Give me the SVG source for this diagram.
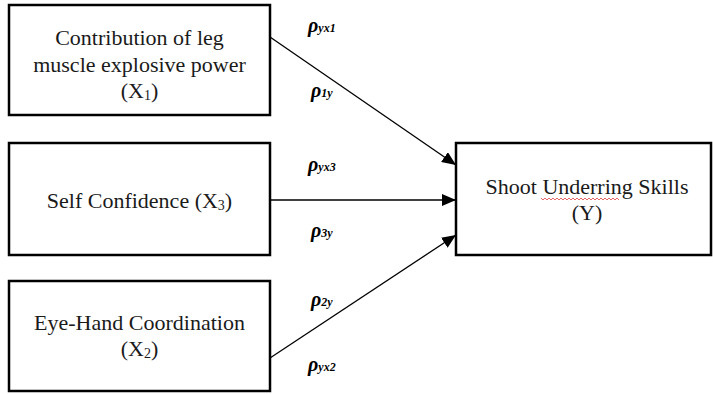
<svg xmlns="http://www.w3.org/2000/svg" width="713" height="394" viewBox="0 0 713 394">
<style>
.box{fill:#fff;stroke:#000;stroke-width:2.5}
.t{font-family:"Liberation Serif","Times New Roman",serif;font-size:22px;fill:#1a1a1a;text-anchor:middle}
.sub{font-size:14px}
.c{stroke:#000;stroke-width:1.3;fill:none}
.rho{font-family:"Liberation Serif","Times New Roman",serif;font-weight:bold;font-style:italic;font-size:20px;fill:#000}
.rs{font-size:12px}
</style>
<defs>
<marker id="ah" markerUnits="userSpaceOnUse" markerWidth="14" markerHeight="12" refX="14" refY="6" orient="auto">
<path d="M0,0 L14,6 L0,12 z" fill="#000"/>
</marker>
</defs>
<rect width="713" height="394" fill="#fff"/>
<g id="x1">
<rect class="box" x="9" y="5" width="261" height="110"/>
<text class="t" x="139.5" y="45">Contribution of leg</text>
<text class="t" x="139.5" y="72">muscle explosive power</text>
<text class="t" x="139.5" y="98">(X<tspan class="sub" dy="2">1</tspan><tspan dy="-2">)</tspan></text>
</g>
<g id="x3">
<rect class="box" x="9" y="143" width="261" height="112"/>
<text class="t" x="139.5" y="208">Self Confidence (X<tspan class="sub" dy="2">3</tspan><tspan dy="-2">)</tspan></text>
</g>
<g id="x2">
<rect class="box" x="9" y="281" width="261" height="110"/>
<text class="t" x="139.5" y="330">Eye-Hand Coordination</text>
<text class="t" x="139.5" y="356">(X<tspan class="sub" dy="2">2</tspan><tspan dy="-2">)</tspan></text>
</g>
<g id="y">
<rect class="box" x="456" y="143" width="255" height="112"/>
<text class="t" x="587" y="194">Shoot Underring Skills</text>
<path d="M541,198 l2,2 l2,-2 l2,2 l2,-2 l2,2 l2,-2 l2,2 l2,-2 l2,2 l2,-2 l2,2 l2,-2 l2,2 l2,-2 l2,2 l2,-2 l2,2 l2,-2 l2,2 l2,-2 l2,2 l2,-2 l2,2 l2,-2 l2,2 l2,-2 l2,2 l2,-2 l2,2 l2,-2 l2,2 l2,-2 l2,2 l2,-2 l2,2 l2,-2 l2,2 l2,-2 l2,2" fill="none" stroke="#e04040" stroke-width="0.8"/>
<text class="t" x="587" y="220">(Y)</text>
</g>
<g id="connectors">
<line class="c" x1="270" y1="37" x2="456" y2="165" marker-end="url(#ah)"/>
<line class="c" x1="270" y1="200" x2="456" y2="200" marker-end="url(#ah)"/>
<line class="c" x1="270" y1="358" x2="456" y2="235" marker-end="url(#ah)"/>
</g>
<g id="labels">
<text class="rho" x="308" y="32">ρ<tspan class="rs">yx1</tspan></text>
<text class="rho" x="311" y="97">ρ<tspan class="rs">1y</tspan></text>
<text class="rho" x="308" y="171">ρ<tspan class="rs">yx3</tspan></text>
<text class="rho" x="311" y="237">ρ<tspan class="rs">3y</tspan></text>
<text class="rho" x="311" y="306">ρ<tspan class="rs">2y</tspan></text>
<text class="rho" x="308" y="371">ρ<tspan class="rs">yx2</tspan></text>
</g>
</svg>
